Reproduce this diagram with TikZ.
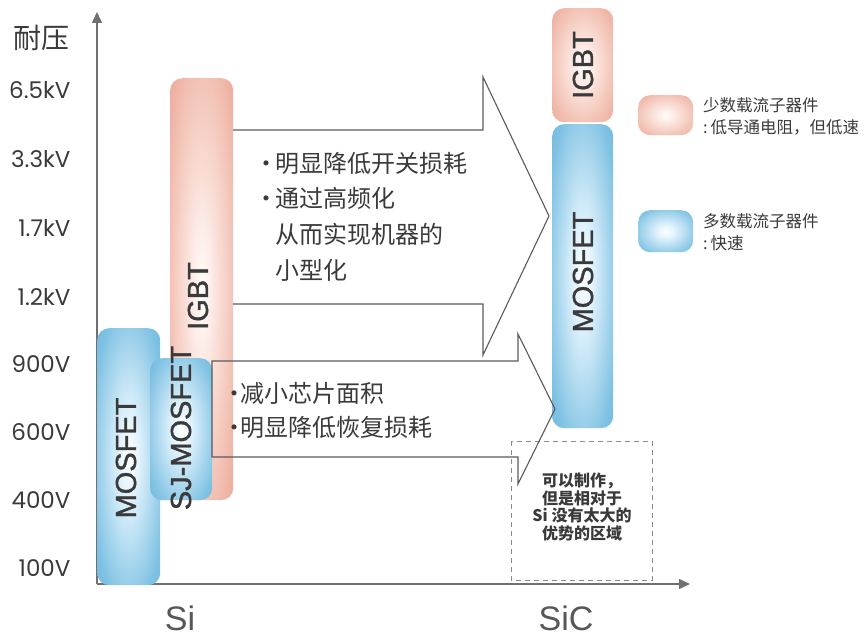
\documentclass[tikz,border=0pt]{standalone}
\usepackage{fontspec}
\setmainfont{Noto Sans CJK SC}
\newfontfamily\latinf{Liberation Sans}[FakeBold=1.2]
\newfontfamily\siff{Liberation Sans}
\newfontfamily\geof{Poppins}
\usetikzlibrary{arrows.meta}
\definecolor{txt}{HTML}{3A3A3A}
\definecolor{axisc}{HTML}{707070}
\definecolor{arrc}{HTML}{5A5A5A}
\definecolor{dashc}{HTML}{8A8A8A}
\pgfdeclareradialshading{blueglow}{\pgfpoint{0bp}{0bp}}{rgb(0bp)=(1,1,1); rgb(8bp)=(0.88,0.95,0.99); rgb(30bp)=(0.50,0.76,0.89); rgb(44bp)=(0.37,0.69,0.86); rgb(100bp)=(0.37,0.69,0.86)}
\pgfdeclareradialshading{redglow}{\pgfpoint{0bp}{0bp}}{rgb(0bp)=(1,0.99,0.98); rgb(8bp)=(0.99,0.92,0.90); rgb(30bp)=(0.94,0.72,0.66); rgb(44bp)=(0.91,0.59,0.52); rgb(100bp)=(0.91,0.59,0.52)}
\tikzset{
  bar/.style={rounded corners=12pt, inner sep=0pt, anchor=north west},
  bluebar/.style={bar, shade, shading=blueglow},
  redbar/.style={bar, shade, shading=redglow},
  barlabel/.style={rotate=90, text=txt, font=\latinf\fontsize{29}{32}\selectfont},
  volt/.style={anchor=east, text=txt, font=\geof\fontsize{23}{26}\selectfont},
  matlabel/.style={text=txt!85, font=\siff\fontsize{34}{38}\selectfont},
  bigarrow/.style={draw=arrc, line width=1.1pt, line join=miter},
  cnbody/.style={align=left, text=txt, inner sep=0pt, anchor=west},
  legendtxt/.style={align=left, text=txt, inner sep=0pt, anchor=west, font=\fontsize{16.5}{22}\selectfont},
}
\begin{document}
\begin{tikzpicture}[x=1pt, y=-1pt]
\useasboundingbox (0,0) rectangle (865,639);
% axes
\coordinate (o) at (97,584);
\coordinate (ytop) at (97,12);
\coordinate (xend) at (690,584);
\draw[axisc, line width=1.4pt, -{Triangle[length=11pt, width=10pt]}] (o) -- (ytop);
\draw[axisc, line width=1.4pt, -{Triangle[length=11pt, width=10pt]}] (o) -- (xend);
\node[text=txt, font=\fontsize{28}{30}\selectfont] (ylab) at (41,38) {耐压};
\node[volt] (v1) at (74,90) {6.5kV};
\node[volt] (v2) at (74,159) {3.3kV};
\node[volt] (v3) at (74,228) {1.7kV};
\node[volt] (v4) at (74,297) {1.2kV};
\node[volt] (v5) at (74,364) {900V};
\node[volt] (v6) at (74,432) {600V};
\node[volt] (v7) at (74,500) {400V};
\node[volt] (v8) at (74,568) {100V};
\node[matlabel] (si) at (180,618) {Si};
\node[matlabel] (sic) at (566,618) {SiC};
% dashed region
\draw[dashc, line width=1pt, dash pattern=on 5pt off 4pt] (511,441) rectangle (652,580);
\node[align=center, text=txt, font=\bfseries\fontsize{16}{17.8}\selectfont] (note) at (582,507) {可以制作，\\但是相对于\\Si 没有太大的\\优势的区域};
% Si bars
\node[redbar, minimum width=63pt, minimum height=422pt] (igbtsi) at (170,78) {};
\node[bluebar, minimum width=63pt, minimum height=257pt] (mossi) at (97,328) {};
\node[bluebar, minimum width=62pt, minimum height=142pt] (sjsi) at (150,358) {};
\node[barlabel] (l1) at (198,296) {IGBT};
\node[barlabel] (l2) at (126,458) {MOSFET};
\node[barlabel] (l3) at (181,428) {SJ-MOSFET};
% SiC bars
\node[redbar, minimum width=61pt, minimum height=114pt] (igbtsic) at (552,8) {};
\node[bluebar, minimum width=61pt, minimum height=304pt] (mossic) at (552,124) {};
\node[barlabel] (l4) at (583,65) {IGBT};
\node[barlabel] (l5) at (583,272) {MOSFET};
% big arrows
\draw[bigarrow] (233,130) -- (483,130) -- (483,77) -- (549,216) -- (483,355) -- (483,304) -- (233,304);
\draw[bigarrow] (212,361) -- (518,361) -- (518,334) -- (555,409) -- (518,484) -- (518,457) -- (212,457) -- cycle;
\node[cnbody, font=\fontsize{24}{35.7}\selectfont] (t1) at (254,216.5) {\makebox[21pt][l]{•}明显降低开关损耗\\\makebox[21pt][l]{•}通过高频化\\\hspace*{21pt}从而实现机器的\\\hspace*{21pt}小型化};
\node[cnbody, font=\fontsize{24}{34}\selectfont] (t2) at (222,410) {\makebox[18pt][l]{•}减小芯片面积\\\makebox[18pt][l]{•}明显降低恢复损耗};
% legend
\node[redbar, minimum width=55pt, minimum height=40pt] (lg1) at (638,95) {};
\node[bluebar, minimum width=55pt, minimum height=42pt] (lg2) at (638,210) {};
\node[legendtxt] (lt1) at (703,116) {少数载流子器件\\:\,低导通电阻，但低速};
\node[legendtxt] (lt2) at (703,232) {多数载流子器件\\:\,快速};
\end{tikzpicture}
\end{document}
